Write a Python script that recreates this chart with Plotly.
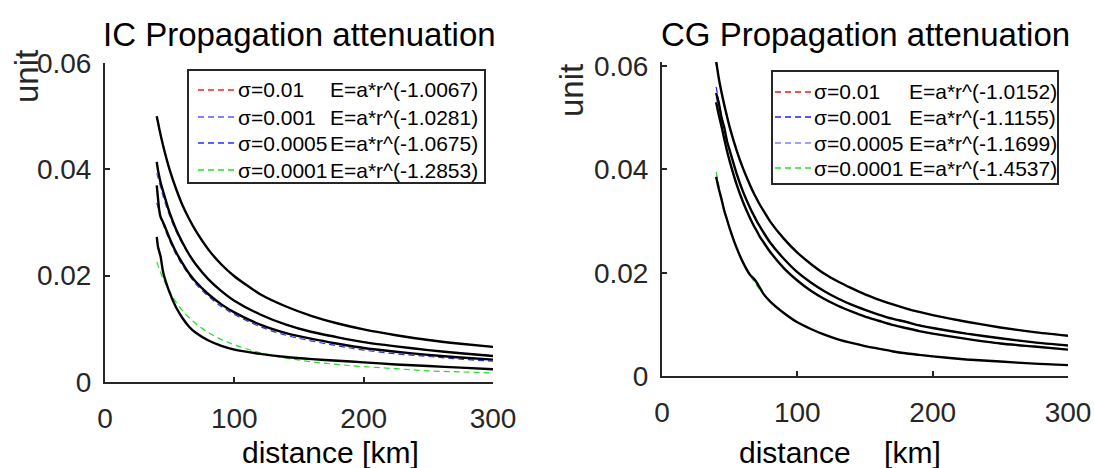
import plotly.graph_objects as go

W, H = 1094, 468

# ---------------- data ----------------
fit_r = [40, 45, 50, 55, 60, 70, 80, 90, 100, 120, 140, 160, 180, 200, 225, 250, 275, 300]

sigma_labels = ["σ=0.01", "σ=0.001", "σ=0.0005", "σ=0.0001"]
ic_exponents = ["E=a*r^(-1.0067)", "E=a*r^(-1.0281)", "E=a*r^(-1.0675)", "E=a*r^(-1.2853)"]
cg_exponents = ["E=a*r^(-1.0152)", "E=a*r^(-1.1155)", "E=a*r^(-1.1699)", "E=a*r^(-1.4537)"]

# IC fitted curves (coloured dashed)
ic_fit_s1 = [.0500, .0444, .0399, .0363, .0332, .0285, .0249, .0221, .0199, .0165, .0142, .0124, .0110, .0099, .0088, .0079, .0072, .0066]
ic_fit_s2 = [.0393, .0348, .0312, .0283, .0259, .0221, .0193, .0171, .0153, .0127, .0108, .0094, .0084, .0075, .0067, .0060, .0054, .0050]
ic_fit_s3 = [.0337, .0297, .0266, .0240, .0219, .0185, .0161, .0142, .0127, .0104, .0088, .0077, .0068, .0060, .0053, .0048, .0043, .0039]
ic_fit_s4 = [.0226, .0194, .0170, .0150, .0134, .0110, .0093, .0080, .0070, .0055, .0045, .0038, .0033, .0029, .0025, .0021, .0019, .0017]

# IC measured data (black)
ic_data_r = [40, 41, 42, 43, 45, 50, 55, 60, 65, 70, 80, 90, 100, 120, 140, 160, 180, 200, 225, 250, 275, 300]
ic_data_s1 = [.0500, .0488, .0476, .0465, .0444, .0399, .0363, .0332, .0307, .0285, .0249, .0221, .0199, .0165, .0142, .0124, .0110, .0099, .0088, .0079, .0072, .0066]
ic_data_s2 = [.0414, .0398, .0386, .0375, .0358, .0318, .0287, .0262, .0240, .0222, .0193, .0171, .0153, .0127, .0108, .0094, .0084, .0075, .0067, .0060, .0054, .0049]
ic_data_s3 = [.0370, .0345, .0322, .0310, .0300, .0270, .0244, .0223, .0204, .0189, .0165, .0146, .0131, .0108, .0092, .0081, .0072, .0064, .0057, .0051, .0046, .0042]
ic_data_s4 = [.0273, .0254, .0245, .0236, .0206, .0168, .0140, .0120, .0104, .0093, .0078, .0068, .0061, .0053, .0047, .0043, .0040, .0037, .0033, .0030, .0027, .0024]

# CG fitted curves
cg_fit_s1 = [.0605, .0537, .0482, .0438, .0401, .0343, .0299, .0266, .0239, .0198, .0170, .0148, .0131, .0118, .0105, .0094, .0085, .0078]
cg_fit_s2 = [.0560, .0491, .0437, .0393, .0356, .0300, .0258, .0227, .0201, .0164, .0138, .0119, .0105, .0093, .0082, .0073, .0065, .0059]
cg_fit_s3 = [.0540, .0471, .0416, .0372, .0336, .0281, .0240, .0209, .0185, .0149, .0125, .0107, .0093, .0082, .0072, .0063, .0057, .0051]
cg_fit_s4 = [.0395, .0333, .0286, .0249, .0219, .0175, .0144, .0122, .0104, .0080, .0064, .0053, .0044, .0038, .0032, .0028, .0024, .0021]

# CG measured data (black)
cg_data_r = [40, 42, 44, 46, 48, 50, 55, 60, 65, 68, 70, 72, 75, 80, 90, 100, 110, 120, 130, 140, 150, 160, 170, 180, 190, 200, 225, 250, 275, 300]
cg_data_s1 = [.0610, .0576, .0549, .0525, .0503, .0482, .0438, .0401, .0370, .0353, .0343, .0333, .0320, .0299, .0266, .0239, .0217, .0198, .0183, .0170, .0158, .0148, .0139, .0131, .0124, .0118, .0105, .0094, .0085, .0078]
cg_data_s2 = [.0548, .0528, .0500, .0481, .0455, .0437, .0393, .0356, .0326, .0310, .0300, .0291, .0278, .0258, .0227, .0201, .0181, .0164, .0150, .0138, .0128, .0119, .0111, .0105, .0098, .0093, .0082, .0073, .0065, .0059]
cg_data_s3 = [.0530, .0505, .0483, .0459, .0436, .0416, .0372, .0336, .0306, .0290, .0281, .0271, .0259, .0240, .0209, .0185, .0165, .0149, .0136, .0125, .0115, .0107, .0099, .0093, .0087, .0082, .0072, .0063, .0057, .0051]
cg_data_s4 = [.0386, .0362, .0342, .0320, .0303, .0286, .0249, .0219, .0196, .0188, .0181, .0172, .0159, .0144, .0122, .0104, .0091, .0080, .0071, .0064, .0058, .0053, .0048, .0044, .0041, .0038, .0032, .0028, .0024, .0021]

x_ticks = [0, 100, 200, 300]
y_ticks = [0, 0.02, 0.04, 0.06]
y_tick_text = ["0", "0.02", "0.04", "0.06"]

ic_colors = ["#ff2020", "#5a5aff", "#2a2aff", "#22e022"]
cg_colors = ["#ff1010", "#2020ff", "#8080ff", "#22e022"]

FONT = "Liberation Sans, Arial, sans-serif"
AXC = "#262626"

fig = go.Figure()

def add_panel(xa, ya, fits, datas, data_r, colors):
    for f, c in zip(fits, colors):
        fig.add_trace(go.Scatter(x=fit_r, y=f, xaxis=xa, yaxis=ya, mode="lines",
                                 line=dict(color=c, width=1.2, dash="6px,4px", shape="spline"),
                                 showlegend=False, hoverinfo="skip"))
    for d in datas:
        fig.add_trace(go.Scatter(x=data_r, y=d, xaxis=xa, yaxis=ya, mode="lines",
                                 line=dict(color="black", width=2.4, shape="spline", smoothing=0.6),
                                 showlegend=False, hoverinfo="skip"))

add_panel("x", "y", [ic_fit_s1, ic_fit_s2, ic_fit_s3, ic_fit_s4],
          [ic_data_s1, ic_data_s2, ic_data_s3, ic_data_s4], ic_data_r, ic_colors)
add_panel("x2", "y2", [cg_fit_s1, cg_fit_s2, cg_fit_s3, cg_fit_s4],
          [cg_data_s1, cg_data_s2, cg_data_s3, cg_data_s4], cg_data_r, cg_colors)

# screen pixel -> paper fraction
def px(x):
    return x / W

def py(y):
    return 1 - y / H

def xaxis_cfg(x0, x1, anchor):
    return dict(domain=[px(x0), px(x1)], range=[0, 300], anchor=anchor,
                showline=True, linecolor=AXC, linewidth=2, mirror=False,
                ticks="inside", ticklen=5, tickwidth=1.5, tickcolor=AXC,
                tickvals=x_ticks, ticktext=[str(v) for v in x_ticks],
                tickfont=dict(family=FONT, size=28, color=AXC),
                ticklabelstandoff=10, automargin=False,
                showgrid=False, zeroline=False, fixedrange=True)

def yaxis_cfg(y_bottom, y_top, top_val, anchor):
    return dict(domain=[py(y_bottom), py(y_top)], range=[0, top_val], anchor=anchor,
                showline=True, linecolor=AXC, linewidth=2, mirror=False,
                ticks="inside", ticklen=5, tickwidth=1.5, tickcolor=AXC,
                tickvals=y_ticks, ticktext=y_tick_text,
                tickfont=dict(family=FONT, size=28, color=AXC),
                ticklabelstandoff=6, automargin=False,
                showgrid=False, zeroline=False, fixedrange=True)

annotations = []
shapes = []

def text(x, y, s, size, xanchor="center", yanchor="middle", angle=0, color="black"):
    annotations.append(dict(x=px(x), y=py(y), xref="paper", yref="paper", text=s,
                            showarrow=False, xanchor=xanchor, yanchor=yanchor,
                            textangle=angle, font=dict(family=FONT, size=size, color=color)))

# titles and axis labels
text(299, 35, "IC Propagation attenuation", 33)
text(865, 35, "CG Propagation attenuation", 33)
text(330, 452, "distance [km]", 30)
text(840, 452, "distance&nbsp;&nbsp;&nbsp;&nbsp;[km]", 30)
text(27, 77, "unit", 33, angle=-90, color=AXC)
text(572, 91, "unit", 33, angle=-90, color=AXC)

def legend(box, rows, line_x, sig_x, e_x, colors, exps):
    x0, y0, x1, y1 = box
    shapes.append(dict(type="rect", xref="paper", yref="paper",
                       x0=px(x0), x1=px(x1), y0=py(y1), y1=py(y0),
                       line=dict(color=AXC, width=2), fillcolor="white", layer="above"))
    for ry, c, s, e in zip(rows, colors, sigma_labels, exps):
        shapes.append(dict(type="line", xref="paper", yref="paper",
                           x0=px(line_x[0]), x1=px(line_x[1]), y0=py(ry), y1=py(ry),
                           line=dict(color=c, width=1.3, dash="6px,4px"), layer="above"))
        text(sig_x, ry, s, 21, xanchor="left")
        text(e_x, ry, e, 21, xanchor="left")

legend((188, 70, 485, 183), [90, 117, 143, 170], (198, 236), 236, 328, ic_colors, ic_exponents)
legend((772, 71, 1058, 184), [92, 117, 143, 168], (775, 812), 812, 907, cg_colors, cg_exponents)

fig.update_layout(
    width=W, height=H, autosize=False,
    margin=dict(l=0, r=0, t=0, b=0, autoexpand=False),
    paper_bgcolor="white", plot_bgcolor="white",
    xaxis=xaxis_cfg(105, 493, "y"),
    yaxis=yaxis_cfg(382, 63, 0.06, "x"),
    xaxis2=xaxis_cfg(662, 1068, "y2"),
    yaxis2=yaxis_cfg(376, 62, 0.0608, "x2"),
    annotations=annotations,
    shapes=shapes,
    showlegend=False,
)

# remove the browser's default page margin so the figure fills the window exactly
fig.write_html("out.html",
               config={"displayModeBar": False},
               post_script="document.body.style.margin='0';"
                           "document.documentElement.style.overflow='hidden';")
